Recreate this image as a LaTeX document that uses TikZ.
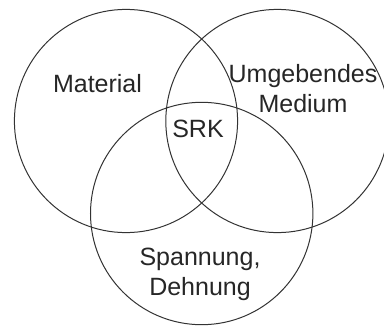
\documentclass[tikz,border=0pt]{standalone}
\usepackage{fontspec}
\setmainfont{Liberation Sans}
\begin{document}
\begin{tikzpicture}[x=1pt,y=-1pt,
  ring/.style={draw=black!80,line width=1pt},
  lbl/.style={text=black!85,font=\fontsize{25}{30}\selectfont,align=center,inner sep=0pt,anchor=base}]
  \useasboundingbox (0,0) rectangle (384,327);
  \clip (0,0) rectangle (384,327);
  % the three overlapping influence areas
  \draw[ring] (126,121) circle (111.6);
  \draw[ring] (277.4,121) circle (111.6);
  \draw[ring] (201.7,213.5) circle (111.2);
  % area labels (base anchor sits on the last line)
  \node[lbl] (mat) at (97.5,92) {Material};
  \node[lbl] (med) at (303,112) {Umgebendes\\Medium};
  \node[lbl] (srk) at (198,137) {SRK};
  \node[lbl] (spa) at (200,295) {Spannung,\\Dehnung};
\end{tikzpicture}
\end{document}
